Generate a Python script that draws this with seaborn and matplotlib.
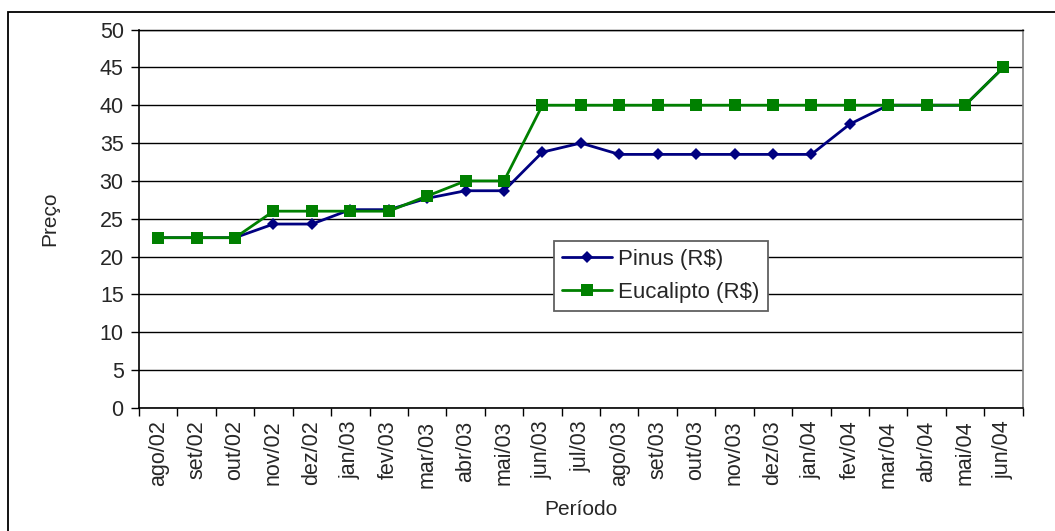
import matplotlib
matplotlib.use("Agg")
import matplotlib.pyplot as plt
from matplotlib.patches import Rectangle
from matplotlib.ticker import FixedLocator, NullFormatter
import numpy as np
import pandas as pd
import seaborn as sns

periodos = ["ago/02", "set/02", "out/02", "nov/02", "dez/02", "jan/03", "fev/03",
            "mar/03", "abr/03", "mai/03", "jun/03", "jul/03", "ago/03", "set/03",
            "out/03", "nov/03", "dez/03", "jan/04", "fev/04", "mar/04", "abr/04",
            "mai/04", "jun/04"]
pinus = [22.5, 22.5, 22.5, 24.3, 24.3, 26.2, 26.2, 27.7, 28.7, 28.7, 33.8, 35.0,
         33.5, 33.5, 33.5, 33.5, 33.5, 33.5, 37.5, 40.0, 40.0, 40.0, 45.0]
eucalipto = [22.5, 22.5, 22.5, 26.0, 26.0, 26.0, 26.0, 28.0, 30.0, 30.0, 40.0, 40.0,
             40.0, 40.0, 40.0, 40.0, 40.0, 40.0, 40.0, 40.0, 40.0, 40.0, 45.0]
y_ticks = list(range(0, 51, 5))

sns.set_theme(style="white")
plt.rcParams["font.family"] = ["Liberation Sans", "DejaVu Sans"]

df = pd.DataFrame({
    "idx": list(range(len(periodos))) * 2,
    "valor": pinus + eucalipto,
    "serie": ["Pinus (R$)"] * len(periodos) + ["Eucalipto (R$)"] * len(periodos),
})

fig = plt.figure(figsize=(10.55, 5.31), dpi=100)
ax = fig.add_axes([139 / 1055, 1 - 408 / 531, (1022.7 - 139) / 1055, (408 - 29.5) / 531])

sns.lineplot(data=df, x="idx", y="valor", hue="serie", style="serie",
             palette={"Pinus (R$)": "#000080", "Eucalipto (R$)": "#008000"},
             markers={"Pinus (R$)": "D", "Eucalipto (R$)": "s"},
             dashes=False, linewidth=2.0, markeredgewidth=0,
             ax=ax)
# marker sizes per series
for line in ax.get_lines():
    if line.get_marker() == "D":
        line.set_markersize(6.5)
    elif line.get_marker() == "s":
        line.set_markersize(8.5)

ax.set_xlim(-0.5, len(periodos) - 0.5)
ax.set_ylim(0, 50)
ax.set_yticks(y_ticks)
ax.set_yticklabels([str(v) for v in y_ticks], fontsize=15.5)
ax.yaxis.grid(True, color="black", linewidth=1.0)
ax.set_axisbelow(True)

ax.set_xticks(range(len(periodos)))
ax.set_xticklabels(periodos, rotation=90, fontsize=15.5)
ax.tick_params(axis="x", which="major", length=0, pad=9)
ax.xaxis.set_minor_locator(FixedLocator(np.arange(-0.5, len(periodos), 1.0)))
ax.xaxis.set_minor_formatter(NullFormatter())
ax.tick_params(axis="x", which="minor", bottom=True, length=6, width=1, color="black", direction="out")
ax.tick_params(axis="y", left=True, length=6, width=1, color="black", direction="out", pad=5)

for side in ["left", "bottom"]:
    ax.spines[side].set_color("black")
    ax.spines[side].set_linewidth(1.2)
ax.spines["right"].set_color("#808080")
ax.spines["right"].set_linewidth(1.2)
ax.spines["top"].set_color("black")
ax.spines["top"].set_linewidth(1.0)

ax.set_xlabel("Período", fontsize=15, labelpad=9)
ax.set_ylabel("Preço", fontsize=15, labelpad=29)

leg = ax.legend(loc="upper left", bbox_to_anchor=((554 - 139) / 883.7, (408 - 241) / 378.5),
                fontsize=16, frameon=True, fancybox=False, edgecolor="#606060",
                framealpha=1, handlelength=2.25, borderpad=0.35, labelspacing=0.55,
                handletextpad=0.3, borderaxespad=0)
leg.get_frame().set_linewidth(1.3)

# outer chart border
fig.patches.append(Rectangle((8 / 1055, -0.05), 1.2, 1 - 12 / 531 + 0.05,
                             transform=fig.transFigure, fill=False,
                             edgecolor="black", linewidth=1.3))

fig.savefig("out.png", dpi=100)
